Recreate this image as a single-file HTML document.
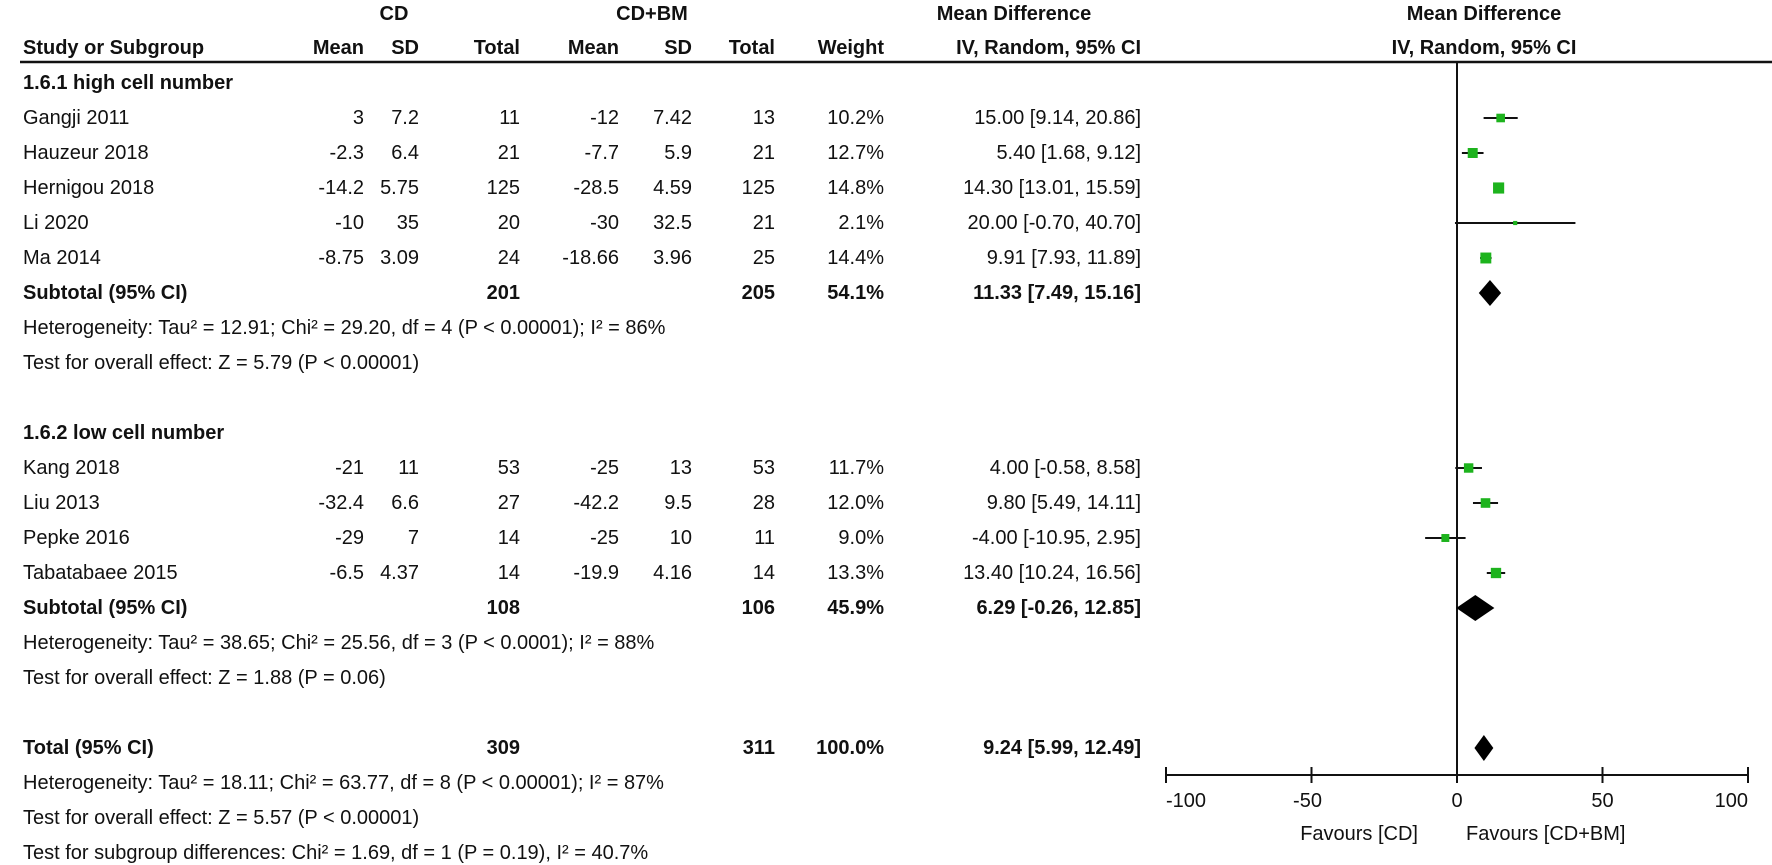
<!DOCTYPE html>
<html><head><meta charset="utf-8"><style>
html,body{margin:0;padding:0;background:#fff;width:1772px;height:865px;overflow:hidden}
svg{display:block;font-family:"Liberation Sans",Arial,sans-serif;font-size:20px}
.b{font-weight:bold}
</style></head><body>
<svg id="c" width="1772" height="865"></svg>
<script>
const studies=["Gangji 2011","Hauzeur 2018","Hernigou 2018","Li 2020","Ma 2014","Kang 2018","Liu 2013","Pepke 2016","Tabatabaee 2015"];
const rowIdx=[1,2,3,4,5,11,12,13,14];
const cdMean=["3","-2.3","-14.2","-10","-8.75","-21","-32.4","-29","-6.5"];
const cdSD=["7.2","6.4","5.75","35","3.09","11","6.6","7","4.37"];
const cdN=["11","21","125","20","24","53","27","14","14"];
const bmMean=["-12","-7.7","-28.5","-30","-18.66","-25","-42.2","-25","-19.9"];
const bmSD=["7.42","5.9","4.59","32.5","3.96","13","9.5","10","4.16"];
const bmN=["13","21","125","21","25","53","28","11","14"];
const weights=[10.2,12.7,14.8,2.1,14.4,11.7,12.0,9.0,13.3];
const md=[15.00,5.40,14.30,20.00,9.91,4.00,9.80,-4.00,13.40];
const lo=[9.14,1.68,13.01,-0.70,7.93,-0.58,5.49,-10.95,10.24];
const hi=[20.86,9.12,15.59,40.70,11.89,8.58,14.11,2.95,16.56];
const sumLabels=["Subtotal (95% CI)","Subtotal (95% CI)","Total (95% CI)"];
const sumRow=[6,15,19];
const sumCdN=["201","108","309"];
const sumBmN=["205","106","311"];
const sumW=["54.1%","45.9%","100.0%"];
const sumMd=[11.33,6.29,9.24];
const sumLo=[7.49,-0.26,5.99];
const sumHi=[15.16,12.85,12.49];
const ticks=[-100,-50,0,50,100];

const svg=document.getElementById('c');
const NS='http://www.w3.org/2000/svg';
const X=v=>1457+v*2.91;
const Y=i=>83+i*35;
function el(t,a,parent){const e=document.createElementNS(NS,t);for(const k in a)e.setAttribute(k,a[k]);(parent||svg).appendChild(e);return e;}
function txt(s,x,y,anchor,bold,name){const e=el('text',{x:x,y:y,'text-anchor':anchor||'start','dominant-baseline':'central',fill:'#111'});if(bold)e.setAttribute('class','b');e.textContent=s;


return e;}
const f2=v=>v.toFixed(2);
txt("CD",394,14,'middle',1,'cd-header');
txt("CD+BM",652,14,'middle',1,'cdbm-header');
txt("Mean Difference",1014,14,'middle',1,'md-header');
txt("Mean Difference",1484,14,'middle',1,'plot-header');
const h2=[["Study or Subgroup",23,'start'],["Mean",364,'end'],["SD",419,'end'],["Total",520,'end'],["Mean",619,'end'],["SD",692,'end'],["Total",775,'end'],["Weight",884,'end'],["IV, Random, 95% CI",1141,'end']];
h2.forEach(h=>txt(h[0],h[1],48,h[2],1,'column-header'));
txt("IV, Random, 95% CI",1484,48,'middle',1,'plot-subheader');
let r=el('line',{x1:20,y1:62,x2:1772,y2:62,stroke:'#111','stroke-width':2.5});


txt("1.6.1 high cell number",23,Y(0),'start',1,'subgroup-title');
txt("1.6.2 low cell number",23,Y(10),'start',1,'subgroup-title');
r=el('line',{x1:X(0),y1:62,x2:X(0),y2:775,stroke:'#111','stroke-width':2});


studies.forEach((s,k)=>{const y=Y(rowIdx[k]);
txt(s,23,y,'start',0,'study-name');
txt(cdMean[k],364,y,'end',0,'cd-mean');txt(cdSD[k],419,y,'end',0,'cd-sd');txt(cdN[k],520,y,'end',0,'cd-total');
txt(bmMean[k],619,y,'end',0,'bm-mean');txt(bmSD[k],692,y,'end',0,'bm-sd');txt(bmN[k],775,y,'end',0,'bm-total');
txt(weights[k].toFixed(1)+"%",884,y,'end',0,'weight');
txt(f2(md[k])+" ["+f2(lo[k])+", "+f2(hi[k])+"]",1141,y,'end',0,'effect-ci');
const l=el('line',{x1:X(lo[k]),y1:y,x2:X(hi[k]),y2:y,stroke:'#111','stroke-width':2});


const sz=3+weights[k]*0.55;
const q=el('rect',{x:X(md[k])-sz/2,y:y-sz/2,width:sz,height:sz,fill:'#1db31d'});


});
sumRow.forEach((ri,k)=>{const y=Y(ri);
txt(sumLabels[k],23,y,'start',1,'summary-label');
txt(sumCdN[k],520,y,'end',1,'summary-cd-total');txt(sumBmN[k],775,y,'end',1,'summary-bm-total');
txt(sumW[k],884,y,'end',1,'summary-weight');
txt(f2(sumMd[k])+" ["+f2(sumLo[k])+", "+f2(sumHi[k])+"]",1141,y,'end',1,'summary-ci');
const d=el('polygon',{points:`${X(sumLo[k])},${y} ${X(sumMd[k])},${y-13} ${X(sumHi[k])},${y} ${X(sumMd[k])},${y+13}`,fill:'#000'});


});
const notes=[[7,"Heterogeneity: Tau² = 12.91; Chi² = 29.20, df = 4 (P < 0.00001); I² = 86%"],[8,"Test for overall effect: Z = 5.79 (P < 0.00001)"],[16,"Heterogeneity: Tau² = 38.65; Chi² = 25.56, df = 3 (P < 0.0001); I² = 88%"],[17,"Test for overall effect: Z = 1.88 (P = 0.06)"],[20,"Heterogeneity: Tau² = 18.11; Chi² = 63.77, df = 8 (P < 0.00001); I² = 87%"],[21,"Test for overall effect: Z = 5.57 (P < 0.00001)"],[22,"Test for subgroup differences: Chi² = 1.69, df = 1 (P = 0.19), I² = 40.7%"]];
notes.forEach(n=>txt(n[1],23,Y(n[0]),'start',0,'statistics-note'));
r=el('line',{x1:X(-100),y1:775,x2:X(100),y2:775,stroke:'#111','stroke-width':2});


ticks.forEach((t,i)=>{const tk=el('line',{x1:X(t),y1:767,x2:X(t),y2:783,stroke:'#111','stroke-width':2});


const first=i===0,last=i===ticks.length-1;
txt(String(t),first||last?X(t):X(t)+(t<0?-4:0),801,first?'start':(last?'end':'middle'),0,'x-tick-label');});
txt("Favours [CD]",1418,834,'end',0,'favours-left');
txt("Favours [CD+BM]",1466,834,'start',0,'favours-right');
</script>
</body></html>
